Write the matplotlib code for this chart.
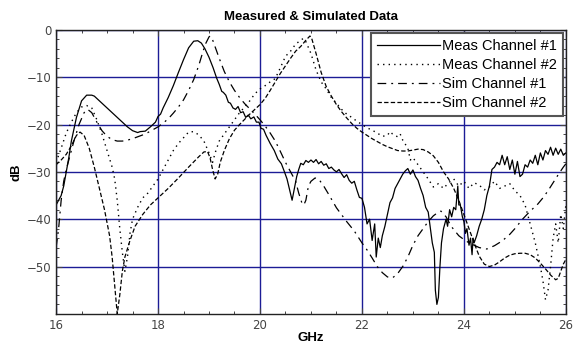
import matplotlib
matplotlib.use("Agg")
import matplotlib.pyplot as plt
from matplotlib.ticker import MultipleLocator

# Meas Channel #1 (solid)
f_m1 = [16.0, 16.05, 16.1, 16.15, 16.2, 16.25, 16.3, 16.4, 16.5, 16.6, 16.7, 16.75, 16.85, 17.0, 17.1,
        17.2, 17.3, 17.4, 17.5, 17.6, 17.65, 17.75, 17.85, 17.95, 18.0, 18.05, 18.1, 18.2, 18.3, 18.4,
        18.5, 18.6, 18.7, 18.78, 18.85, 18.92, 19.0, 19.08, 19.15, 19.2, 19.25, 19.28, 19.33, 19.38,
        19.42, 19.47, 19.52, 19.57, 19.62, 19.67, 19.72, 19.77, 19.82, 19.88, 19.93, 19.98, 20.02,
        20.07, 20.12, 20.2, 20.28, 20.35, 20.42, 20.48, 20.53, 20.58, 20.63, 20.68, 20.72, 20.76, 20.8,
        20.85, 20.9, 20.95, 21.0, 21.05, 21.1, 21.15, 21.2, 21.25, 21.3, 21.35, 21.4, 21.45, 21.5,
        21.55, 21.6, 21.65, 21.7, 21.75, 21.8, 21.85, 21.9, 21.95, 22.0, 22.05, 22.1, 22.15, 22.2,
        22.25, 22.28, 22.32, 22.36, 22.4, 22.45, 22.5, 22.55, 22.6, 22.65, 22.7, 22.75, 22.8, 22.85,
        22.9, 22.95, 23.0, 23.05, 23.1, 23.15, 23.2, 23.25, 23.3, 23.35, 23.38, 23.42, 23.44, 23.47,
        23.5, 23.53, 23.56, 23.6, 23.65, 23.68, 23.72, 23.76, 23.8, 23.84, 23.88, 23.9, 23.93, 23.97,
        24.0, 24.03, 24.06, 24.1, 24.13, 24.16, 24.18, 24.2, 24.25, 24.3, 24.35, 24.4, 24.45, 24.5,
        24.55, 24.6, 24.65, 24.7, 24.75, 24.8, 24.85, 24.9, 24.95, 25.0, 25.05, 25.1, 25.15, 25.2,
        25.25, 25.3, 25.35, 25.4, 25.45, 25.5, 25.55, 25.6, 25.65, 25.7, 25.75, 25.8, 25.85, 25.9,
        25.95, 26.0]
db_m1 = [-37, -36, -35, -33, -30, -27, -23.5, -18.5, -15, -13.8, -13.8, -14, -15, -16.5, -17.5,
         -18.5, -19.5, -20.5, -21.3, -21.7, -21.5, -21.4, -20.5, -19.5, -18.3, -17.8, -16.5, -14.3, -11.8, -9,
         -6.3, -3.8, -2.4, -2.3, -2.8, -4, -5.8, -8, -10.2, -11.5, -13, -13.2, -13.8, -15.3,
         -15.5, -16.5, -16.8, -16.2, -17.5, -17.3, -18.5, -18, -18.8, -18.4, -19.5, -19.5, -20.8,
         -21, -22.3, -24, -25.5, -27.3, -28.3, -30, -31.5, -33.8, -36, -33.2, -31, -29.5, -28.2,
         -28.5, -27.6, -28, -27.5, -28, -27.4, -28.3, -27.8, -28.6, -28.3, -29.3, -29, -29.6, -30,
         -29.5, -30.4, -31.2, -30.6, -31.8, -32.4, -32, -33.8, -35.4, -35.6, -37.5, -41, -40, -44.5,
         -41, -48, -44, -46, -43.5, -41.5, -39, -36.5, -35.5, -33.5, -32.5, -31.5, -30.5, -29.8,
         -29.3, -30.5, -29.6, -31, -31.8, -33.5, -35, -37.5, -38.5, -42.5, -45, -47, -55, -58,
         -56.5, -50, -45, -42, -40, -41.5, -38, -39.5, -37.5, -38, -33, -37, -37, -39.5,
         -40.5, -43, -42, -45.5, -44, -47.5, -44, -45, -43.5, -41.5, -40, -38, -35, -33,
         -29.5, -29, -28, -28.5, -26.5, -28.5, -26.8, -29.5, -27.5, -30.5, -27.8, -31, -30.5, -28.5,
         -29, -27.5, -28.2, -26.5, -28.5, -26, -27.5, -25.5, -26.3, -24.8, -26.5, -25, -26.3, -25.2,
         -26.5, -26]

# Meas Channel #2 (dotted)
f_m2 = [16.0, 16.1, 16.2, 16.3, 16.4, 16.5, 16.6, 16.7, 16.8, 16.9, 17.0, 17.1, 17.15, 17.2, 17.25,
        17.3, 17.35, 17.4, 17.45, 17.5, 17.6, 17.7, 17.8, 17.9, 18.0, 18.1, 18.2, 18.3, 18.4, 18.5,
        18.6, 18.7, 18.8, 18.9, 19.0, 19.07, 19.12, 19.2, 19.3, 19.4, 19.5, 19.6, 19.7, 19.8, 19.9,
        20.0, 20.1, 20.2, 20.3, 20.4, 20.5, 20.6, 20.7, 20.8, 20.85, 20.9, 21.0, 21.1, 21.2, 21.3,
        21.4, 21.5, 21.6, 21.7, 21.8, 21.9, 22.0, 22.1, 22.2, 22.3, 22.4, 22.5, 22.55, 22.6, 22.7,
        22.75, 22.8, 22.9, 22.95, 23.0, 23.1, 23.2, 23.3, 23.4, 23.5, 23.6, 23.7, 23.8, 23.9, 24.0,
        24.1, 24.2, 24.3, 24.4, 24.5, 24.6, 24.7, 24.8, 24.9, 25.0, 25.1, 25.2, 25.3, 25.4, 25.5,
        25.55, 25.6, 25.65, 25.7, 25.75, 25.8, 25.85, 25.9, 25.95, 26.0]
db_m2 = [-28, -25, -21.8, -19.5, -17.5, -16.3, -16, -16.5, -19, -22, -25.5, -29, -31.5, -36, -42,
         -47, -51, -48, -43, -40, -37.5, -35.5, -34.5, -33, -31.5, -29.5, -27.5, -25.5, -24, -22.8,
         -21.6, -21.5, -22.2, -23.5, -26, -28, -26, -23.5, -22, -20.5, -19, -17.5, -16.3, -15, -13.5,
         -12.5, -11.8, -11, -10.3, -8, -5.6, -4.5, -3, -2.2, -1.8, -2.5, -5, -8.5, -11, -12.5,
         -14.3, -15.5, -16.8, -17.8, -18.5, -19.3, -20, -20.7, -21.2, -21.8, -22.5, -22.3, -21.5, -22, -22.6,
         -22, -23.3, -25, -27.5, -27, -28.5, -30, -31.5, -33.2, -32.5, -33.5, -32.3, -31.5, -33, -32,
         -33.5, -32.3, -32.8, -33.8, -33.2, -32, -33.5, -33, -32.5, -34, -35, -37, -41, -45, -50,
         -53, -57, -55, -50, -44, -41, -45, -39, -42, -37]

# Sim Channel #1 (dash-dot)
f_s1 = [16.0, 16.05, 16.1, 16.15, 16.2, 16.25, 16.35, 16.45, 16.55, 16.62, 16.7, 16.8, 16.9, 17.0,
        17.1, 17.2, 17.3, 17.4, 17.5, 17.6, 17.7, 17.8, 17.9, 18.0, 18.1, 18.2, 18.3, 18.4, 18.5,
        18.6, 18.7, 18.8, 18.87, 18.93, 19.0, 19.02, 19.06, 19.1, 19.2, 19.3, 19.4, 19.5, 19.6, 19.7,
        19.8, 19.9, 20.0, 20.1, 20.2, 20.3, 20.4, 20.5, 20.6, 20.7, 20.76, 20.82, 20.86, 20.9, 20.95,
        21.0, 21.08, 21.15, 21.25, 21.35, 21.5, 21.7, 21.85, 22.0, 22.1, 22.2, 22.3, 22.4, 22.5, 22.6,
        22.7, 22.8, 22.9, 23.0, 23.1, 23.2, 23.3, 23.4, 23.5, 23.55, 23.65, 23.75, 23.9, 24.0, 24.1,
        24.2, 24.3, 24.45, 24.6, 24.75, 24.9, 25.0, 25.15, 25.3, 25.45, 25.55, 25.65, 25.75, 25.85,
        25.95, 26.0]
db_s1 = [-46, -42, -36, -32, -29.5, -27.5, -23.5, -20, -17.5, -16.8, -17.5, -19.5, -21.3, -22.5,
         -23.2, -23.5, -23.5, -23.3, -23, -22.6, -22.2, -21.7, -21.1, -20.5, -19.7, -18.8, -17.6, -16.3, -14.8,
         -12.8, -10.5, -7.5, -5, -3, -1.5, -1.3, -1.8, -3, -6, -8.8, -11, -12.8, -14.3, -15.6,
         -16.7, -17.8, -19, -20.3, -21.8, -23.5, -25.7, -28, -30, -32, -34.5, -36.5, -37, -36, -33,
         -32, -31.3, -31.5, -33, -34.8, -37.6, -40.5, -42.5, -45, -46.5, -48.2, -50, -51.3, -52.2, -52.4,
         -51.5, -50, -48, -45.5, -43.5, -42, -40.5, -39.3, -38.5, -38.3, -39.5, -41.5, -43.5, -44.3, -45,
         -45.5, -46, -46.3, -45.6, -44.6, -43.2, -42, -40, -38.3, -36.8, -35.5, -34, -32.3, -30.6,
         -29, -28.3]

# Sim Channel #2 (dashed)
f_s2 = [16.0, 16.1, 16.2, 16.3, 16.4, 16.47, 16.55, 16.65, 16.75, 16.85, 16.95, 17.05, 17.1, 17.15,
        17.2, 17.25, 17.3, 17.35, 17.45, 17.55, 17.7, 17.85, 18.0, 18.2, 18.4, 18.6, 18.8, 18.9, 18.97,
        19.02, 19.07, 19.12, 19.17, 19.22, 19.3, 19.4, 19.5, 19.6, 19.7, 19.8, 19.9, 20.0, 20.1, 20.2,
        20.3, 20.4, 20.5, 20.6, 20.7, 20.8, 20.9, 20.98, 21.02, 21.1, 21.2, 21.3, 21.4, 21.5, 21.6,
        21.7, 21.8, 21.9, 22.0, 22.1, 22.2, 22.3, 22.4, 22.5, 22.6, 22.7, 22.8, 22.9, 23.0, 23.1,
        23.2, 23.3, 23.4, 23.5, 23.6, 23.7, 23.8, 23.9, 24.0, 24.1, 24.2, 24.3, 24.4, 24.5, 24.6,
        24.7, 24.8, 24.9, 25.0, 25.1, 25.2, 25.3, 25.4, 25.5, 25.6, 25.7, 25.8, 25.85, 25.9, 25.95, 26.0]
db_s2 = [-28.5, -27.5, -26.3, -24.5, -22.3, -21.6, -22.3, -25, -29, -33.5, -38, -43.5, -48, -54,
         -60, -56, -51, -48, -44.5, -41.5, -39, -37, -35.5, -33.5, -31.3, -29, -26.8, -25.8, -25.7,
         -27, -29.5, -31.5, -30.5, -28, -25.5, -23, -21.2, -20, -18.9, -17.8, -16.8, -15.8, -14.5, -12.8,
         -11, -9.2, -7.6, -6, -4.5, -3.5, -2.2, -1.3, -2, -5, -9, -12, -14, -15.8, -17.3,
         -18.6, -19.8, -20.8, -21.6, -22.3, -23, -23.6, -24.2, -24.7, -25.1, -25.5, -25.6, -25.6, -25.4, -25.2,
         -25.3, -25.8, -26.6, -28, -30, -31.5, -33.5, -36, -39, -42, -45, -47.8, -49.5, -50, -49.7,
         -49, -48.2, -47.6, -47.3, -47.2, -47.2, -47.5, -48.2, -49.3, -50.5, -51.8, -52.8, -52.5, -51, -49.5, -48.5]

fig = plt.figure(figsize=(5.78, 3.43), dpi=100)
ax = fig.add_axes([0.097, 0.085, 0.882, 0.828])

ax.plot(f_m1, db_m1, color='black', lw=0.9, linestyle='-', label='Meas Channel #1')
ax.plot(f_m2, db_m2, color='black', lw=1.0, linestyle=(0, (1, 3)), label='Meas Channel #2')
ax.plot(f_s1, db_s1, color='black', lw=0.9, linestyle=(0, (7, 4, 1.5, 4)), label='Sim Channel #1')
ax.plot(f_s2, db_s2, color='black', lw=0.9, linestyle=(0, (3.5, 1.8)), label='Sim Channel #2')

ax.set_xlim(16, 26)
ax.set_ylim(-60, 0)
ax.set_xticks([16, 18, 20, 22, 24, 26])
ax.set_yticks([-50, -40, -30, -20, -10, 0])
ax.set_yticklabels(['\u221250', '\u221240', '\u221230', '\u221220', '\u221210', '0'])
ax.xaxis.set_minor_locator(MultipleLocator(0.5))
ax.yaxis.set_minor_locator(MultipleLocator(2))
ax.tick_params(which='both', direction='in', top=True, right=True, labelsize=8.5,
               labelcolor='#444444', color='#444444')
ax.tick_params(which='major', length=4, width=0.8)
ax.tick_params(which='minor', length=2.5, width=0.7)
for lab in ax.get_xticklabels() + ax.get_yticklabels():
    lab.set_family('DejaVu Sans')
ax.grid(True, which='major', color='#1c1c96', lw=1.0)
for s in ax.spines.values():
    s.set_linewidth(1.0)
    s.set_color('#222222')

ax.set_title('Measured & Simulated Data', fontsize=9.5, fontweight='bold',
             family='Liberation Sans', pad=7)
ax.set_xlabel('GHz', fontsize=9.5, fontweight='bold', family='Liberation Sans', labelpad=0)
ax.set_ylabel('dB', fontsize=9.5, fontweight='bold', family='Liberation Sans', labelpad=3)

leg = ax.legend(loc='upper right', prop={'family': 'Liberation Sans', 'size': 10.5},
                handlelength=4.3, handletextpad=0.1, labelspacing=0.33, borderpad=0.45,
                borderaxespad=0.2, fancybox=False, framealpha=1)
leg.get_frame().set_edgecolor('#555555')
leg.get_frame().set_linewidth(1.5)

fig.savefig('out.png', dpi=100)
